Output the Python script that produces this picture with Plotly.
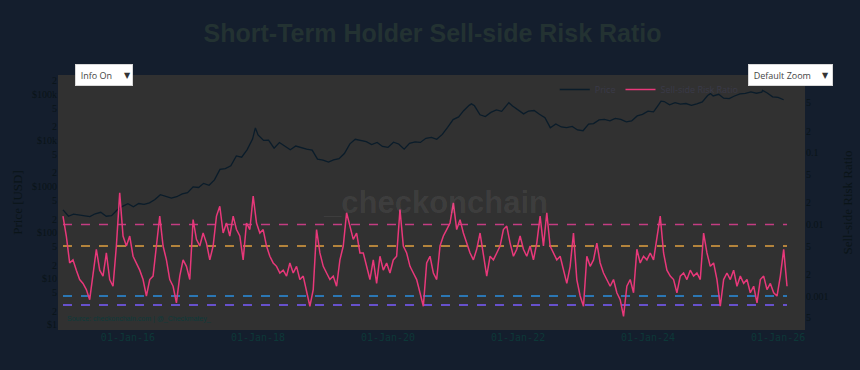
import pandas as pd
import plotly.graph_objects as go
from plotly.subplots import make_subplots

# ---------------- data ----------------
price_months = pd.date_range("2015-01-01", "2026-02-01", freq="MS")
price_monthly = [
    315, 230, 255, 245, 235, 225, 260, 280, 230, 237, 315, 378,
    430, 370, 435, 415, 450, 530, 675, 620, 570, 610, 700, 745,
    1000, 970, 1190, 1080, 1420, 2400, 2480, 2870, 4700, 4400, 6450, 10900,
    13400, 10200, 10300, 6900, 9200, 7500, 6400, 7700, 7000, 6600, 6300, 4000,
    3800, 3450, 3850, 4100, 5300, 8600, 10800, 10100, 9600, 8300, 9200, 7550,
    7200, 9350, 8550, 6600, 8800, 9450, 9230, 11350, 11900, 10800, 13800, 19700,
    29000, 33100, 45200, 58900, 57700, 36700, 33600, 41500, 47100, 43800, 61300, 57000,
    46300, 38500, 44400, 45500, 37700, 31800, 19300, 23300, 20000, 19400, 20500, 17200,
    16600, 23100, 23600, 28500, 29200, 27200, 30600, 29200, 25900, 27000, 34700, 37700,
    44200, 42600, 61100, 71300, 60600, 67500, 62700, 64600, 58900, 63300, 70200, 96400,
    94400, 102400, 84300, 82500, 94200, 104600, 107100, 115700, 108200, 114000, 109500, 90400,
    87500, 78000,
]
peak_dates = ["2017-12-17", "2021-04-14", "2021-11-10", "2024-03-14", "2024-12-17", "2025-10-06"]
peak_values = [19100, 63500, 67500, 73000, 106000, 124000]

ratio_start = "2015-01-01"
ratio_end = "2026-02-20"
ratio_values = [
    0.0131, 0.0069, 0.0029, 0.0032, 0.0023, 0.0017, 0.0015, 0.00123, 0.00089, 0.0021,
    0.0045, 0.0023, 0.0019, 0.0040, 0.0017, 0.00137, 0.0050, 0.0277, 0.0069, 0.0050,
    0.0069, 0.0036, 0.0029, 0.0023, 0.0017, 0.0010, 0.0017, 0.0019, 0.0050, 0.0131,
    0.0050, 0.0032, 0.0017, 0.00137, 0.0008, 0.0019, 0.0032, 0.0026, 0.0017, 0.0117,
    0.0062, 0.0050, 0.0076, 0.0055, 0.0032, 0.0050, 0.0131, 0.0180, 0.0076, 0.0105,
    0.0069, 0.0131, 0.0085, 0.0069, 0.0032, 0.0105, 0.0085, 0.0249, 0.0105, 0.0076,
    0.0085, 0.0050, 0.0036, 0.0029, 0.0026, 0.0021, 0.0023, 0.0019, 0.0029, 0.0021,
    0.0026, 0.0017, 0.0019, 0.00123, 0.00072, 0.00123, 0.0085, 0.0040, 0.0026, 0.0021,
    0.0017, 0.0019, 0.00137, 0.0032, 0.0050, 0.0146, 0.0095, 0.0062, 0.0076, 0.0040,
    0.0040, 0.0026, 0.0017, 0.0032, 0.0015, 0.0036, 0.0023, 0.0029, 0.0021, 0.0032,
    0.0036, 0.0162, 0.0050, 0.0040, 0.0026, 0.0021, 0.0017, 0.00111, 0.00072, 0.0029,
    0.0036, 0.0021, 0.0017, 0.0050, 0.0069, 0.0085, 0.0105, 0.0201, 0.0085, 0.0117,
    0.0076, 0.0055, 0.0040, 0.0032, 0.0045, 0.0076, 0.0036, 0.0019, 0.0036, 0.0032,
    0.0040, 0.0050, 0.0085, 0.0095, 0.0055, 0.0036, 0.0045, 0.0069, 0.0045, 0.0036,
    0.0050, 0.0032, 0.0055, 0.0131, 0.0050, 0.0146, 0.0050, 0.0040, 0.0032, 0.0036,
    0.0023, 0.0015, 0.0026, 0.0076, 0.0017, 0.0010, 0.00072, 0.0036, 0.0026, 0.0032,
    0.0055, 0.0029, 0.0021, 0.0017, 0.00137, 0.0017, 0.00111, 0.00089, 0.00052, 0.00137,
    0.0017, 0.00111, 0.0045, 0.0029, 0.0036, 0.0032, 0.0040, 0.0032, 0.0062, 0.0131,
    0.0040, 0.0023, 0.0019, 0.0017, 0.00111, 0.0019, 0.0021, 0.0017, 0.0023, 0.0019,
    0.0021, 0.0017, 0.0076, 0.0040, 0.0026, 0.0029, 0.0017, 0.00072, 0.0017, 0.0021,
    0.0017, 0.0023, 0.00137, 0.0019, 0.0015, 0.0017, 0.00111, 0.00137, 0.0008, 0.0017,
    0.0019, 0.00123, 0.0015, 0.00111, 0.0010, 0.0019, 0.0045, 0.00137,
]

level_values = [0.01, 0.005, 0.001, 0.00075]
level_colors = ["#c43d82", "#e0a040", "#2a8fe0", "#7a5cff"]

x_tick_start = "2016-01-01"

price_tickvals = [1, 2, 5, 10, 20, 50, 100, 200, 500, 1000, 2000, 5000,
                  10000, 20000, 50000, 100000, 200000]
price_ticktext = ["$1", "2", "5", "$10", "2", "5", "$100", "2", "5", "$1000", "2", "5",
                  "$10k", "2", "5", "$100k", "2"]
ratio_tickvals = [0.0005, 0.001, 0.002, 0.005, 0.01, 0.02, 0.05, 0.1, 0.2, 0.5]
ratio_ticktext = ["5", "0.001", "2", "5", "0.01", "2", "5", "0.1", "2", "5"]

# ---------------- figure ----------------
price = pd.concat([
    pd.Series(price_monthly, index=price_months),
    pd.Series(peak_values, index=pd.to_datetime(peak_dates)),
]).sort_index()
ratio_dates = pd.date_range(ratio_start, ratio_end, periods=len(ratio_values))

fig = make_subplots(specs=[[{"secondary_y": True}]])

fig.add_trace(go.Scatter(x=price.index, y=price.values, mode="lines", name="Price",
                         line=dict(color="#0a1c2a", width=1.3)), secondary_y=False)

for val, col in zip(level_values, level_colors):
    fig.add_trace(go.Scatter(x=[ratio_dates[0], ratio_dates[-1]], y=[val, val], mode="lines",
                             line=dict(color=col, width=1.6, dash="dash"), showlegend=False,
                             hoverinfo="skip"), secondary_y=True)

fig.add_trace(go.Scatter(x=ratio_dates, y=ratio_values, mode="lines", name="Sell-side Risk Ratio",
                         line=dict(color="#e8387a", width=1.5)), secondary_y=True)

axis_font = dict(family="Liberation Serif", size=10, color="#0a1418")


def menu_box(label, x0, width):
    return dict(text=label, x=x0, y=1.043, xref="paper", yref="paper", xanchor="left",
                yanchor="top", width=width, height=20, align="left", valign="middle",
                showarrow=False, bgcolor="#ffffff", bordercolor="#d8d8d8", borderwidth=1,
                borderpad=0, font=dict(family="Open Sans", size=9, color="#444444"))


def menu_arrow(x):
    return dict(text="▼", x=x, y=1.0, xref="paper", yref="paper", xanchor="center",
                yanchor="middle", showarrow=False,
                font=dict(family="DejaVu Sans", size=8, color="#333333"))


fig.update_layout(
    width=860, height=370,
    margin=dict(l=58, r=55, t=75, b=40, autoexpand=False),
    paper_bgcolor="#141e2d",
    plot_bgcolor="#313131",
    title=dict(text="<b>Short-Term Holder Sell-side Risk Ratio</b>", x=0.503, xanchor="center",
               y=0.91, yanchor="middle",
               font=dict(family="Liberation Sans", size=25, color="#233232")),
    showlegend=True,
    legend=dict(orientation="h", x=0.665, y=1.0, xanchor="left", yanchor="top",
                bgcolor="rgba(0,0,0,0)", font=dict(size=9, color="#3a3a48")),
    annotations=[
        dict(text="<b>_checkonchain</b>", x=0.505, y=0.5, xref="paper", yref="paper",
             showarrow=False, font=dict(family="Liberation Sans", size=31,
                                        color="rgba(255,255,255,0.07)")),
        dict(text="Source: checkonchain.com | @_Checkmatey_", x=0.01, y=0.045,
             xref="paper", yref="paper", xanchor="left", yanchor="middle", showarrow=False,
             font=dict(family="Liberation Sans", size=7, color="#0e3a3a")),
        menu_box("&nbsp;&nbsp;Info On", 0.0228, 56),
        menu_arrow(0.0924),
        menu_box("&nbsp;&nbsp;Default Zoom", 0.9237, 83),
        menu_arrow(1.028),
    ],
)

fig.update_xaxes(domain=[0, 1], range=["2014-12-04", "2026-06-01"], tickformat="%d-%b-%y",
                 dtick="M24", tick0=x_tick_start, showgrid=False, zeroline=False, ticks="",
                 automargin=False,
                 tickfont=dict(family="DejaVu Sans Mono", size=10, color="#0d3838"))

fig.update_yaxes(type="log", range=[-0.11, 5.43], tickvals=price_tickvals,
                 ticktext=price_ticktext,
                 showgrid=False, zeroline=False, tickfont=axis_font, automargin=False,
                 title=dict(text="Price [USD]", font=dict(family="Liberation Serif", size=13,
                                                          color="#0a1418"), standoff=6),
                 secondary_y=False)
fig.update_yaxes(type="log", range=[-3.475, 0.09], tickvals=ratio_tickvals,
                 ticktext=ratio_ticktext, showgrid=False, zeroline=False,
                 tickfont=axis_font, automargin=False,
                 title=dict(text="Sell-side Risk Ratio", font=dict(family="Liberation Serif",
                                                                   size=13, color="#0a1418")),
                 secondary_y=True)

fig.write_html("out.html")
